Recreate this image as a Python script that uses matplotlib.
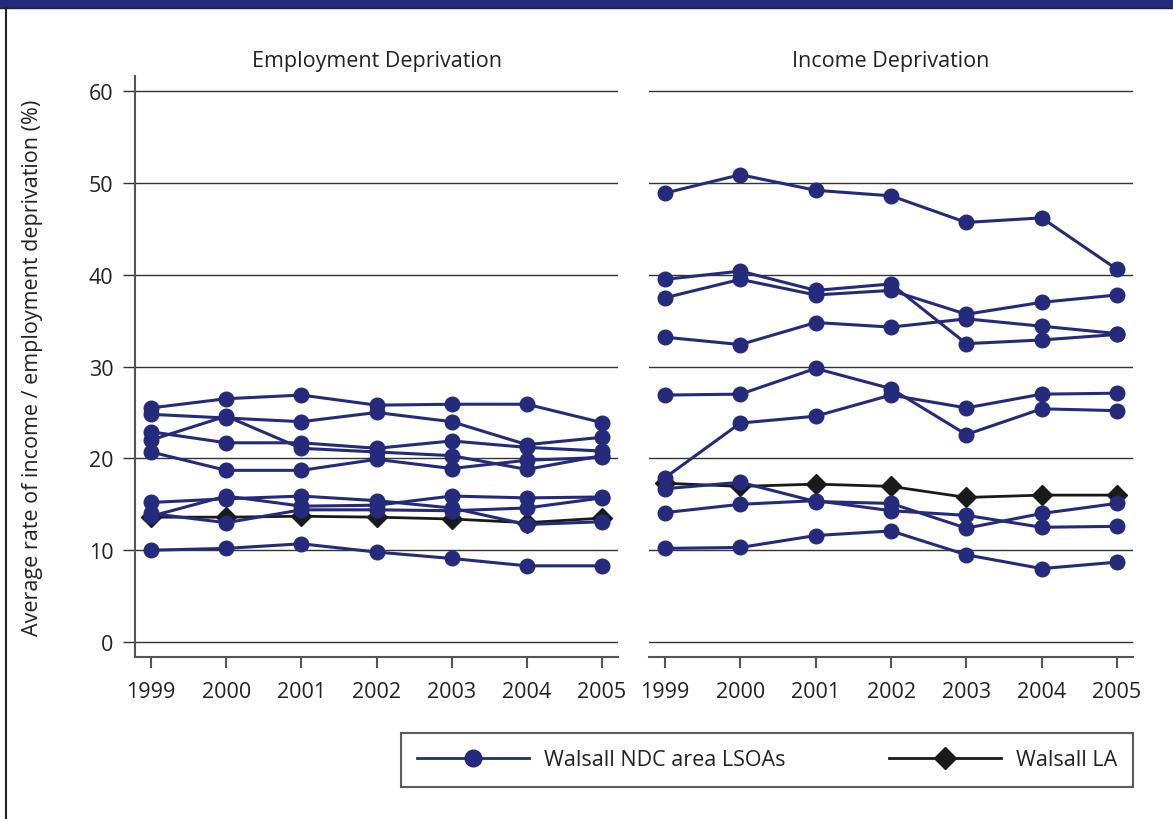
import matplotlib
matplotlib.use("Agg")
import matplotlib.pyplot as plt
from matplotlib.lines import Line2D
from matplotlib.patches import Rectangle

plt.rcParams['font.family'] = ['Open Sans', 'DejaVu Sans']

years = [1999, 2000, 2001, 2002, 2003, 2004, 2005]
yticks = [0, 10, 20, 30, 40, 50, 60]
panel_titles = ["Employment Deprivation", "Income Deprivation"]
ylabel = "Average rate of income / employment deprivation (%)"
legend_labels = ["Walsall NDC area LSOAs", "Walsall LA"]

# Employment deprivation rates for each NDC-area LSOA
employment_lsoa = [
    [25.5, 26.5, 26.9, 25.8, 25.9, 25.9, 23.9],
    [24.8, 24.4, 24.0, 25.0, 24.0, 21.5, 22.3],
    [22.0, 24.6, 21.1, 20.7, 20.3, 18.8, 20.3],
    [22.9, 21.7, 21.7, 21.1, 21.9, 21.2, 20.8],
    [20.7, 18.7, 18.7, 19.9, 18.9, 19.8, 20.1],
    [15.2, 15.6, 15.9, 15.4, 14.6, 12.8, 13.1],
    [13.7, 15.9, 14.8, 14.9, 15.9, 15.7, 15.8],
    [14.0, 13.0, 14.4, 14.4, 14.3, 14.6, 15.7],
    [10.0, 10.2, 10.7, 9.8, 9.1, 8.3, 8.3],
]
employment_la = [13.6, 13.6, 13.7, 13.6, 13.4, 13.0, 13.5]

# Income deprivation rates for each NDC-area LSOA
income_lsoa = [
    [48.9, 50.9, 49.2, 48.6, 45.7, 46.2, 40.6],
    [39.5, 40.4, 38.3, 39.0, 32.5, 32.9, 33.5],
    [37.5, 39.5, 37.8, 38.3, 35.7, 37.0, 37.8],
    [33.2, 32.4, 34.8, 34.3, 35.2, 34.4, 33.6],
    [26.9, 27.0, 29.8, 27.6, 22.6, 25.4, 25.2],
    [17.9, 23.85, 24.6, 26.9, 25.5, 27.0, 27.1],
    [16.7, 17.4, 15.3, 15.1, 12.4, 14.0, 15.1],
    [14.1, 15.0, 15.4, 14.3, 13.8, 12.5, 12.6],
    [10.2, 10.3, 11.6, 12.1, 9.5, 8.0, 8.7],
]
income_la = [17.3, 16.95, 17.2, 16.95, 15.75, 16.0, 16.0]

NAVY = '#252b7c'
BLACK = '#1a1a1a'
GRID = '#333333'
SPINE = '#555555'
TEXT = '#222222'
FS = 15.5

W, H = 1173, 820
fig = plt.figure(figsize=(W / 100, H / 100), dpi=100)
fig.patch.set_facecolor('white')

def fx(px):
    return px / W

def fy(py):
    return 1 - py / H

ax1 = fig.add_axes([fx(135), fy(658), fx(618) - fx(135), fy(77) - fy(658)])
ax2 = fig.add_axes([fx(649), fy(658), fx(1133) - fx(649), fy(77) - fy(658)], sharey=ax1)

datasets = [(ax1, employment_lsoa, employment_la), (ax2, income_lsoa, income_la)]
for ax, lsoa, la in datasets:
    ax.plot(years, la, color=BLACK, lw=2.0, marker='D', ms=10,
            mfc=BLACK, mec=BLACK, clip_on=False, zorder=3)
    for series in lsoa:
        ax.plot(years, series, color=NAVY, lw=2.2, marker='o', ms=10.5,
                mfc=NAVY, mec=NAVY, clip_on=False, zorder=4)
    ax.set_xlim(1998.787, 2005.213)
    ax.set_ylim(-1.63, 61.65)
    ax.set_xticks(years)
    ax.set_xticklabels([str(y) for y in years], fontsize=FS, color=TEXT)
    ax.set_yticks(yticks)
    ax.grid(axis='y', color=GRID, lw=1.0, zorder=0)
    ax.set_axisbelow(True)
    ax.tick_params(axis='x', direction='out', length=8, width=1.5,
                   color=SPINE, pad=9)
    for side in ['top', 'right']:
        ax.spines[side].set_visible(False)
    ax.spines['bottom'].set_color(SPINE)
    ax.spines['bottom'].set_linewidth(1.5)

ax1.spines['left'].set_color(SPINE)
ax1.spines['left'].set_linewidth(1.5)
ax1.tick_params(axis='y', direction='out', length=8.6, width=1.0,
                color=GRID, pad=7, labelsize=FS, labelcolor=TEXT)
ax1.set_yticklabels([str(v) for v in yticks])
ax2.spines['left'].set_visible(False)
ax2.tick_params(axis='y', length=0, labelleft=False)

ax1.set_title(panel_titles[0], fontsize=FS, color=TEXT, pad=7.5)
ax2.set_title(panel_titles[1], fontsize=FS, color=TEXT, pad=7.5)
fig.text(fx(33), fy(368), ylabel, rotation=90, ha='center', va='center',
         fontsize=FS, color=TEXT)

# page furniture: header band and left rule
fig.add_artist(Rectangle((0, fy(8.5)), 1, 8.5 / H, transform=fig.transFigure,
                         facecolor='#252a78', edgecolor='none'))
fig.add_artist(Line2D([0, 1], [fy(9), fy(9)], transform=fig.transFigure,
                      color='#222222', lw=1.0))
fig.add_artist(Line2D([fx(6), fx(6)], [0, fy(9)], transform=fig.transFigure,
                      color='#222222', lw=1.5))

handles = [
    Line2D([], [], color=NAVY, lw=2.0, marker='o', ms=12, mfc=NAVY, mec=NAVY),
    Line2D([], [], color=BLACK, lw=2.0, marker='D', ms=11, mfc=BLACK, mec=BLACK),
]
leg = fig.legend(handles, legend_labels, loc='center',
                 bbox_to_anchor=(fx(767), fy(761)), ncol=2, fontsize=FS,
                 frameon=True, fancybox=False, edgecolor='#333333',
                 handlelength=5.2, handletextpad=0.7, columnspacing=4.8,
                 borderpad=0.75, borderaxespad=0)
leg.get_frame().set_linewidth(1.5)
for t in leg.get_texts():
    t.set_color(TEXT)

fig.savefig('out.png', dpi=100, facecolor='white')
